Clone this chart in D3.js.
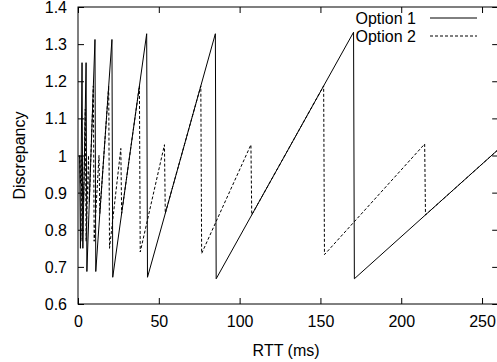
<!DOCTYPE html>
<html><head><meta charset="utf-8">
<script src="https://cdn.jsdelivr.net/npm/d3@7"></script>
<style>body{margin:0;background:#fff;} svg{display:block;} text{font-family:"Liberation Sans",Arial,sans-serif;}</style>
</head><body>
<svg id="c" width="497" height="362"></svg>
<script>
const seriesNames = ["Option 1", "Option 2"];
// sawtooth vertices [RTT (ms), discrepancy]
const option1 = [[1,1.0],[1.5,0.75],[2.5,1.25],[3,0.75],[5,1.25],[5.5,0.6875],[10.5,1.3125],[11,0.6875],[21,1.3125],[21.5,0.672],[42.5,1.328],[43,0.672],[85,1.328],[85.5,0.668],[170.5,1.332],[171,0.668],[260,1.016]];
const option2 = [[1,1.0],[1.5,0.923],[2,1.0],[2.5,0.769],[3,0.923],[3.5,0.875],[4.5,1.125],[5,0.769],[6.5,1.0],[7,0.875],[9.5,1.1875],[10,0.769],[13,1.0],[13.5,0.844],[19,1.1875],[19.5,0.75],[26.5,1.019],[27,0.844],[38,1.1875],[38.5,0.740],[53.5,1.029],[54,0.844],[76,1.1875],[76.5,0.736],[107,1.029],[107.5,0.840],[152,1.1875],[152.5,0.733],[214.5,1.031],[215,0.840],[260,1.016]];
const xTicks = [0,50,100,150,200,250];
const yTicks = [0.6,0.7,0.8,0.9,1.0,1.1,1.2,1.3,1.4];
const yTickLabels = ["0.6","0.7","0.8","0.9","1","1.1","1.2","1.3","1.4"];
const xLabel = "RTT (ms)", yLabel = "Discrepancy";

const svg = d3.select("#c");
const L = 78, R = 498.2, T = 7, B = 304;
const x = d3.scaleLinear().domain([0,260]).range([L,R]);
const y = d3.scaleLinear().domain([0.6,1.4]).range([B,T]);
const fs = 16;

// axes with inward ticks
const gx = svg.append("g").attr("transform",`translate(0,${B})`)
  .call(d3.axisBottom(x).tickValues(xTicks).tickSizeInner(-6).tickSizeOuter(0).tickPadding(12).tickFormat(d3.format("d")));
const gxt = svg.append("g").attr("transform",`translate(0,${T})`)
  .call(d3.axisTop(x).tickValues(xTicks).tickSizeInner(-6).tickSizeOuter(0).tickFormat(""));
const gy = svg.append("g").attr("transform",`translate(${L},0)`)
  .call(d3.axisLeft(y).tickValues(yTicks).tickSizeInner(-6).tickSizeOuter(0).tickPadding(11).tickFormat((d,i)=>yTickLabels[i]));
const gyr = svg.append("g").attr("transform",`translate(${R},0)`)
  .call(d3.axisRight(y).tickValues(yTicks).tickSizeInner(-6).tickSizeOuter(0).tickFormat(""));
[gx,gxt,gy,gyr].forEach(g=>{
  g.select(".domain").remove();
  g.selectAll("line").attr("stroke","#000").attr("stroke-width",1);
  g.selectAll("text").attr("font-size",fs).attr("fill","#000").attr("font-family","Liberation Sans, Arial, sans-serif");
});
gy.selectAll("text").attr("dy","0.35em");
gx.selectAll("text").attr("dy","0.71em");

svg.append("rect").attr("x",L).attr("y",T).attr("width",R-L).attr("height",B-T)
  .attr("fill","none").attr("stroke","#000").attr("stroke-width",1);

const line = d3.line().x(d=>x(d[0])).y(d=>y(d[1]));
svg.append("path").datum(option2).attr("d",line).attr("fill","none").attr("stroke","#000").attr("stroke-width",1).attr("stroke-dasharray","3,2");
svg.append("path").datum(option1).attr("d",line).attr("fill","none").attr("stroke","#000").attr("stroke-width",1);

// legend
const lg = svg.append("g");
[0,1].forEach(i=>{
  const yy = 18 + i*18;
  lg.append("text").attr("x",416).attr("y",yy).attr("dy","0.35em").attr("text-anchor","end").attr("font-size",fs).text(seriesNames[i]);
  lg.append("line").attr("x1",430).attr("x2",477).attr("y1",yy).attr("y2",yy).attr("stroke","#000").attr("stroke-width",1)
    .attr("stroke-dasharray", i===1 ? "3,2" : null);
});

svg.append("text").attr("x",(L+R)/2 - 2).attr("y",350).attr("dy","0.35em").attr("text-anchor","middle").attr("font-size",fs).text(xLabel);
svg.append("text").attr("transform",`translate(19,${(T+B)/2}) rotate(-90)`).attr("dy","0.35em").attr("text-anchor","middle").attr("font-size",fs).text(yLabel);
</script>
</body></html>
